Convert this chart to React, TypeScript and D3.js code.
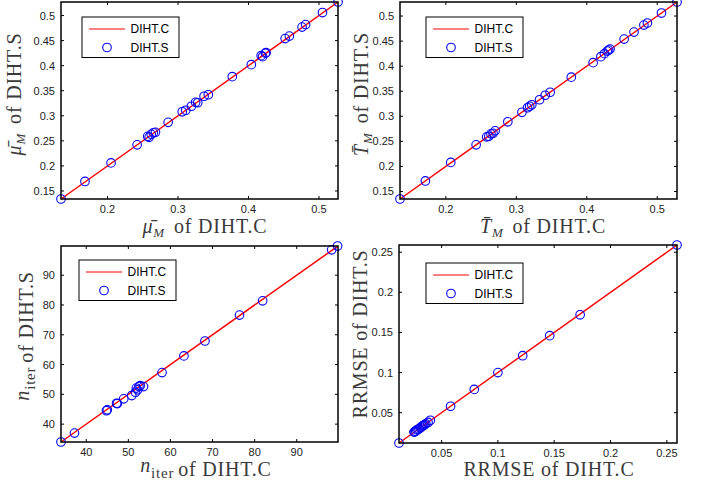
import React from 'react';
import * as d3 from 'd3';

// mean mu_M: DIHT.C vs DIHT.S
const muC = [0.134, 0.168, 0.205, 0.242, 0.257, 0.259, 0.262, 0.265, 0.268, 0.286, 0.306, 0.311, 0.319, 0.325, 0.328, 0.337, 0.343, 0.377, 0.404, 0.418, 0.420, 0.424, 0.425, 0.452, 0.458, 0.476, 0.481, 0.505, 0.527];
const muS = [0.134, 0.169, 0.206, 0.242, 0.259, 0.257, 0.263, 0.266, 0.267, 0.287, 0.308, 0.311, 0.319, 0.327, 0.326, 0.339, 0.342, 0.378, 0.402, 0.420, 0.418, 0.425, 0.426, 0.454, 0.459, 0.477, 0.482, 0.506, 0.527];

// mean T_M
const tC = [0.135, 0.171, 0.207, 0.243, 0.258, 0.261, 0.264, 0.267, 0.270, 0.288, 0.308, 0.316, 0.319, 0.322, 0.333, 0.341, 0.348, 0.378, 0.409, 0.420, 0.425, 0.429, 0.431, 0.433, 0.453, 0.467, 0.481, 0.486, 0.506, 0.528];
const tS = [0.135, 0.171, 0.208, 0.243, 0.259, 0.260, 0.265, 0.266, 0.271, 0.289, 0.308, 0.317, 0.320, 0.323, 0.333, 0.342, 0.348, 0.378, 0.407, 0.419, 0.425, 0.430, 0.432, 0.434, 0.454, 0.468, 0.482, 0.486, 0.506, 0.528];

// n_iter
const nC = [34, 37.2, 44.8, 45.0, 47.2, 47.4, 48.9, 50.8, 51.7, 51.9, 52.2, 52.5, 52.8, 53.6, 58.0, 63.2, 68.2, 76.4, 81.9, 98.3, 99.7];
const nS = [34, 37.0, 44.5, 44.8, 47.0, 46.9, 48.5, 49.6, 50.7, 52.1, 51.5, 52.6, 52.9, 52.6, 57.3, 62.9, 67.9, 76.6, 81.4, 98.5, 99.8];

// RRMSE
const rC = [0.0122, 0.0255, 0.026, 0.027, 0.028, 0.029, 0.030, 0.031, 0.032, 0.033, 0.034, 0.035, 0.036, 0.038, 0.040, 0.058, 0.079, 0.100, 0.122, 0.146, 0.173, 0.259];
const rS = [0.0122, 0.0258, 0.026, 0.0268, 0.0285, 0.029, 0.0298, 0.0312, 0.032, 0.0335, 0.034, 0.0352, 0.0362, 0.0378, 0.0405, 0.058, 0.079, 0.100, 0.121, 0.146, 0.172, 0.259];

const muTicksX = [0.2, 0.3, 0.4, 0.5];
const muTicksY = [0.15, 0.2, 0.25, 0.3, 0.35, 0.4, 0.45, 0.5];
const nTicks = [40, 50, 60, 70, 80, 90];
const rTicks = [0.05, 0.1, 0.15, 0.2, 0.25];

const SERIF = '"Liberation Serif", "Times New Roman", serif';
const SANS = '"Liberation Sans", Arial, Helvetica, sans-serif';

const Panel = (props) => {
    const { c, s, xTicks, yTicks, box, legend, xLabel, yLabel } = props;
    const [x0, x1, yTop, yBot] = box;
    const dom = d3.extent(c.concat(s));
    const x = d3.scaleLinear().domain(dom).range([x0, x1]);
    const y = d3.scaleLinear().domain(dom).range([yBot, yTop]);
    const line = d3.line().x(d => x(d)).y(d => y(d));
    const tl = 3;
    const [lx, ly] = legend;

    return (
        <g>
            <rect x={x0} y={yTop} width={x1 - x0} height={yBot - yTop} fill='white' />
            <path d={line(d3.extent(c))} stroke='#ff0000' strokeWidth={1.5} fill='none' />
            {c.map((v, i) => (
                <circle key={i} cx={x(v)} cy={y(s[i])} r={4.3} fill='none' stroke='#0000ff' strokeWidth={1.1} />
            ))}
            {xTicks.map(t => (
                <g key={'x' + t}>
                    <line x1={x(t)} x2={x(t)} y1={yBot} y2={yBot - tl} stroke='black' />
                    <line x1={x(t)} x2={x(t)} y1={yTop} y2={yTop + tl} stroke='black' />
                    <text x={x(t)} y={yBot + 13.5} textAnchor='middle' fontFamily={SANS} fontSize={11} fill='#222'>{String(t)}</text>
                </g>
            ))}
            {yTicks.map(t => (
                <g key={'y' + t}>
                    <line x1={x0} x2={x0 + tl} y1={y(t)} y2={y(t)} stroke='black' />
                    <line x1={x1} x2={x1 - tl} y1={y(t)} y2={y(t)} stroke='black' />
                    <text x={x0 - 6} y={y(t) + 4} textAnchor='end' fontFamily={SANS} fontSize={11} fill='#222'>{String(t)}</text>
                </g>
            ))}
            <rect x={x0} y={yTop} width={x1 - x0} height={yBot - yTop} fill='none' stroke='black' strokeWidth={1.5} />

            <g transform={`translate(${x0 + lx}, ${yTop + ly})`}>
                <rect x={0} y={0} width={97} height={40.5} fill='white' stroke='black' strokeWidth={1} />
                <line x1={7} x2={43} y1={12} y2={12} stroke='#ff0000' strokeWidth={1} />
                <circle cx={25} cy={30.5} r={4.3} fill='none' stroke='#0000ff' strokeWidth={1.1} />
                <text x={48.5} y={16.2} fontFamily={SANS} fontSize={12} fill='black'>DIHT.C</text>
                <text x={48.5} y={34.7} fontFamily={SANS} fontSize={12} fill='black'>DIHT.S</text>
            </g>

            <text x={xLabel.x} y={xLabel.y} textAnchor='middle' fontFamily={SERIF} fontSize={20} letterSpacing={0.8} fill='#3a3a3a'>
                {xLabel.content('C')}
            </text>
            <text transform={`translate(${yLabel.x}, ${yLabel.y}) rotate(-90)`} textAnchor='middle' fontFamily={SERIF} fontSize={20} letterSpacing={0.8} fill='#3a3a3a'>
                {yLabel.content('S')}
            </text>
        </g>
    );
};

const barSym = (sym) => (m) => (
    <>
        <tspan fontStyle='italic'>{sym}</tspan>
        <tspan fontStyle='italic' fontSize={13} dy={4}>M</tspan>
        <tspan dy={-4} dx={9}>of DIHT.{m}</tspan>
    </>
);

const niterLabel = (m) => (
    <>
        <tspan fontStyle='italic' dy={-4}>n</tspan>
        <tspan fontSize={15} dy={6}>iter</tspan>
        <tspan dy={-2} dx={4}>of DIHT.{m}</tspan>
    </>
);

const rrmseLabel = (m) => <tspan>RRMSE of DIHT.{m}</tspan>;

export default function App() {
    return (
        <div style={{ position: 'absolute', left: 0, top: 0 }}>
            <svg width={705} height={482} style={{ display: 'block', background: 'white' }}>
                <Panel c={muC} s={muS} xTicks={muTicksX} yTicks={muTicksY} box={[61, 338, 2, 199]}
                    legend={[21, 15]}
                    xLabel={{ x: 205, y: 233, content: barSym('\u03bc\u0304') }}
                    yLabel={{ x: 21, y: 94, content: barSym('\u03bc\u0304') }} />
                <Panel c={tC} s={tS} xTicks={muTicksX} yTicks={muTicksY} box={[400, 677, 2, 199]}
                    legend={[26, 15]}
                    xLabel={{ x: 543, y: 233, content: barSym('T\u0304') }}
                    yLabel={{ x: 368, y: 94, content: barSym('T\u0304') }} />
                <Panel c={nC} s={nS} xTicks={nTicks} yTicks={nTicks} box={[61, 338, 246, 442]}
                    legend={[18, 14]}
                    xLabel={{ x: 206, y: 476, content: niterLabel }}
                    yLabel={{ x: 33, y: 336, content: niterLabel }} />
                <Panel c={rC} s={rS} xTicks={rTicks} yTicks={rTicks} box={[399, 677, 245, 443]}
                    legend={[27, 18]}
                    xLabel={{ x: 549, y: 476, content: rrmseLabel }}
                    yLabel={{ x: 367, y: 334, content: rrmseLabel }} />
            </svg>
        </div>
    );
}
